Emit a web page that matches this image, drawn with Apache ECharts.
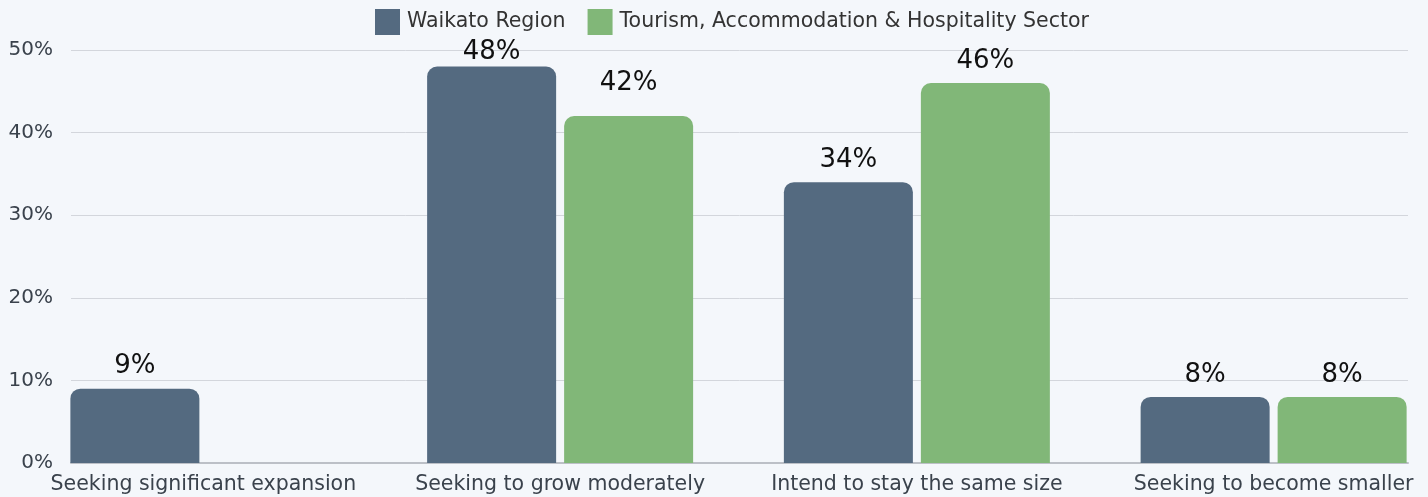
<!DOCTYPE html>
<html>
<head>
<meta charset="utf-8">
<script src="https://cdn.jsdelivr.net/npm/echarts@6/dist/echarts.min.js"></script>
<style>
  html, body { margin: 0; padding: 0; background: #f4f7fb; }
  #chart { width: 1428px; height: 497px; }
</style>
</head>
<body>
<div id="chart"></div>
<script>
const categories = [
  'Seeking significant expansion',
  'Seeking to grow moderately',
  'Intend to stay the same size',
  'Seeking to become smaller'
]
const waikato = [9, 48, 34, 8]
const tourism = [null, 42, 46, 8]
const seriesNames = ['Waikato Region', 'Tourism, Accommodation & Hospitality Sector']

const FONT = '"DejaVu Sans", sans-serif'
const SLATE = '#546a80'
const GREEN = '#81b778'

// a couple of labels sit off the usual spot in the original
const labelShift = { '0-1': 8, '1-1': -11 }

function withLabels(values, s) {
  return values.map((v, i) => {
    const shift = labelShift[s + '-' + i]
    if (v == null) return v
    return shift ? { value: v, label: { offset: [0, shift] } } : v
  })
}

const chart = echarts.init(document.getElementById('chart'))

const barLabel = {
  show: true,
  position: 'top',
  distance: 9,
  formatter: '{c}%',
  color: '#111',
  fontFamily: FONT,
  fontSize: 26
}

chart.setOption({
  backgroundColor: '#f4f7fb',
  animation: false,
  legend: {
    top: 4,
    left: 370,
    icon: 'rect',
    itemWidth: 25,
    itemHeight: 26,
    itemGap: 22,
    textStyle: { color: '#333', fontFamily: FONT, fontSize: 20.5, padding: [0, 0, 0, 2] },
    data: seriesNames
  },
  grid: [
    // bands run a bit past the drawn plot on both sides
    { left: 25, top: 50, right: -24, height: 413, outerBoundsMode: 'none' },
    { left: 71, right: 20, top: 50, height: 413, outerBoundsMode: 'none' }
  ],
  xAxis: [
    {
      type: 'category',
      gridIndex: 0,
      data: categories,
      axisLine: { show: false },
      axisTick: { show: false },
      axisLabel: {
        interval: 0,
        margin: 11,
        color: '#3a424c',
        fontFamily: FONT,
        fontSize: 20.5
      }
    },
    {
      type: 'value',
      gridIndex: 1,
      min: 0,
      max: 1,
      axisLine: { show: true, lineStyle: { color: '#bcc0c7', width: 2 } },
      axisTick: { show: false },
      axisLabel: { show: false },
      splitLine: { show: false }
    }
  ],
  yAxis: [
    {
      type: 'value',
      gridIndex: 0,
      min: 0,
      max: 50,
      show: false
    },
    {
      type: 'value',
      gridIndex: 1,
      min: 0,
      max: 50,
      interval: 10,
      axisLine: { show: false },
      axisTick: { show: false },
      axisLabel: {
        formatter: '{value}%',
        margin: 18,
        color: '#3a424c',
        fontFamily: FONT,
        fontSize: 20
      },
      splitLine: { lineStyle: { color: '#d3d6dc', width: 1 } }
    }
  ],
  series: [
    {
      name: seriesNames[0],
      type: 'bar',
      xAxisIndex: 0,
      yAxisIndex: 0,
      data: withLabels(waikato, 0),
      barWidth: 129,
      barGap: '6.2%',
      itemStyle: { color: SLATE, borderRadius: [10, 10, 0, 0] },
      label: barLabel
    },
    {
      name: seriesNames[1],
      type: 'bar',
      xAxisIndex: 0,
      yAxisIndex: 0,
      data: withLabels(tourism, 1),
      barWidth: 129,
      barGap: '6.2%',
      itemStyle: { color: GREEN, borderRadius: [10, 10, 0, 0] },
      label: barLabel
    }
  ]
})
</script>
</body>
</html>
